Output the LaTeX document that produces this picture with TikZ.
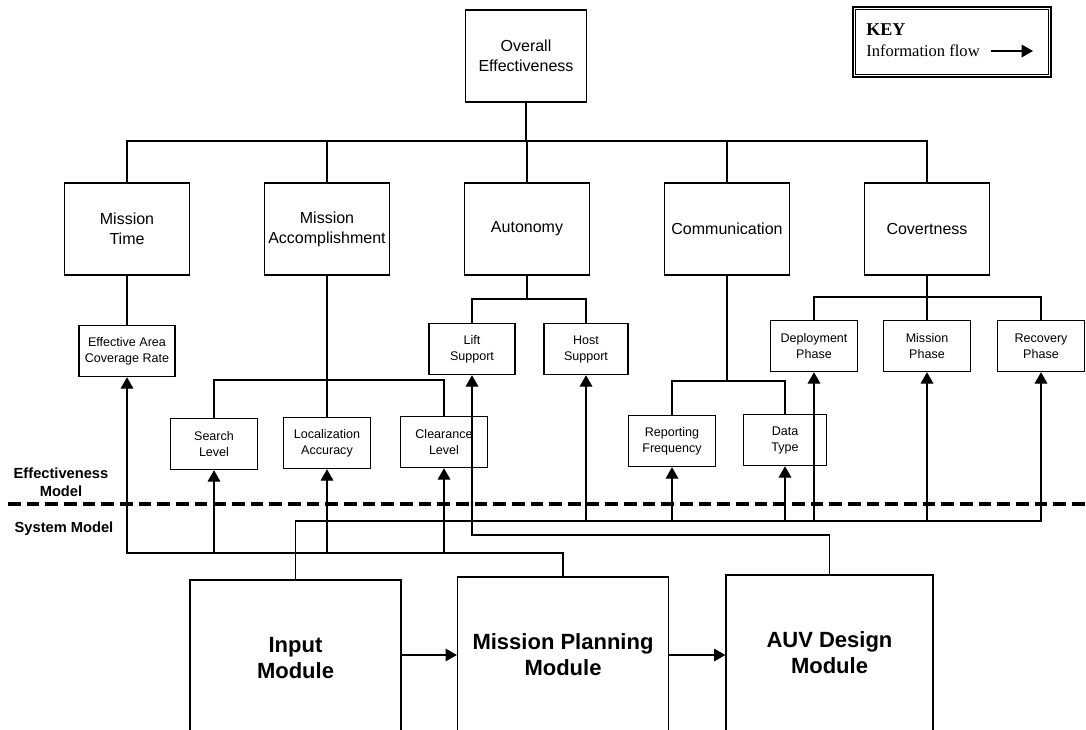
\documentclass[tikz,border=0pt]{standalone}
\usepackage{fontspec}
\setmainfont{Liberation Sans}
\newfontfamily\keyfont{Liberation Serif}
\usetikzlibrary{shapes,arrows.meta}
\tikzstyle{bigbox} = [rectangle, minimum width=93.75pt, minimum height=69pt, inner xsep=1pt, text centered, align=center, draw=black, line width=1.2pt, font=\fontsize{12}{15}\selectfont]
\tikzstyle{smallbox} = [rectangle, minimum width=65.25pt, minimum height=38.25pt, inner xsep=2pt, text centered, align=center, draw=black, line width=1.1pt, font=\fontsize{9.4}{12}\selectfont]
\tikzstyle{module} = [rectangle, minimum width=158pt, text centered, align=center, draw=black, line width=1.2pt, font=\fontsize{16.5}{19.5}\selectfont\bfseries]
\tikzstyle{sidelabel} = [align=center, font=\fontsize{11}{13.5}\selectfont\bfseries]
\tikzstyle{tree} = [line width=1.2pt]
\tikzstyle{arrow} = [line width=0.8pt,-{Triangle[length=8.5pt,width=9.5pt]}]
\tikzstyle{divider} = [line width=2.4pt, dash pattern=on 9.5pt off 4.5pt]

\begin{document}
\begin{tikzpicture}[x=0.75pt, y=-0.75pt, node distance=150pt]
    \useasboundingbox (0,0) rectangle (1086,729);
    \begin{scope}
        \clip (0,0) rectangle (1086,729);
        % effectiveness model
        \node (overall) [bigbox, minimum width=91pt] at (526,56) {Overall\\Effectiveness};
        \node (auto) [bigbox, below of=overall, yshift=20.25pt, xshift=0.75pt] {Autonomy};
        \node (macc) [bigbox, left of=auto] {Mission\\Accomplishment};
        \node (mtime) [bigbox, left of=macc] {Mission\\Time};
        \node (comm) [bigbox, right of=auto] {Communication};
        \node (covert) [bigbox, right of=comm] {Covertness};
        \node (eacr) [smallbox, minimum width=72pt] at (127,351) {Effective Area\\Coverage Rate};
        \node (lift) [smallbox, minimum width=64.5pt] at (472,349) {Lift\\Support};
        \node (host) [smallbox, minimum width=63pt] at (586,349) {Host\\Support};
        \node (deploy) [smallbox] at (814,346) {Deployment\\Phase};
        \node (mphase) [smallbox] at (927,346) {Mission\\Phase};
        \node (recov) [smallbox] at (1041,346) {Recovery\\Phase};
        \node (search) [smallbox] at (214,444) {Search\\Level};
        \node (local) [smallbox] at (327,443) {Localization\\Accuracy};
        \node (clear) [smallbox] at (444,442) {Clearance\\Level};
        \node (report) [smallbox] at (672,441) {Reporting\\Frequency};
        \node (dtype) [smallbox, minimum width=62pt] at (785,440) {Data\\Type};
        % system model
        \node (input) [module, minimum height=117pt] at (295.5,658) {Input\\Module};
        \node (mp) [module, minimum height=117pt] at (563,655) {Mission Planning\\Module};
        \node (auv) [module, minimum width=155pt, minimum height=117pt] at (829.5,653) {AUV Design\\Module};
        \node (effmodel) [sidelabel] at (61,482) {Effectiveness\\Model};
        \node (sysmodel) [sidelabel] at (64,529) {System Model};
        \draw [divider] (8,504) -- (1086,504);
        % key
        \node (key) [draw, line width=1.3pt, minimum width=148.5pt, minimum height=52.5pt] at (952,42) {};
        \draw [line width=0.6pt] ([shift={(2.5pt,-2.5pt)}]key.north west) rectangle ([shift={(-2.5pt,2.5pt)}]key.south east);
        \node (keytitle) [anchor=west, inner sep=0pt, font=\keyfont\fontsize{13.5}{16}\selectfont\bfseries] at (866,30) {KEY};
        \node (keyflow) [anchor=west, inner sep=0pt, font=\keyfont\fontsize{12.4}{15}\selectfont] at (866,51) {Information flow};
        \coordinate (keytip) at (1033,51);
        \draw [arrow] ([xshift=8pt]keyflow.east) -- (keyflow.east -| keytip);
        % hierarchy
        \coordinate (topbar) at (527,141);
        \draw [tree] (overall.south) -- (overall.south |- topbar);
        \draw [tree] (mtime.north) |- (topbar) -| (covert.north);
        \draw [tree] (macc.north) -- (macc.north |- topbar);
        \draw [tree] (auto.north) -- (auto.north |- topbar);
        \draw [tree] (comm.north) -- (comm.north |- topbar);
        \draw [tree] (mtime) -- (eacr);
        \coordinate (maccbar) at (327,380);
        \draw [tree] (macc) -- (local);
        \draw [tree] (search.north) |- (maccbar) -| (clear.north);
        \coordinate (autobar) at (527,299);
        \draw [tree] (auto.south) -- (autobar);
        \draw [tree] (lift.north) |- (autobar) -| (host.north);
        \coordinate (commbar) at (727,381);
        \draw [tree] (comm.south) -- (commbar);
        \draw [tree] (report.north) |- (commbar) -| (dtype.north);
        \coordinate (covbar) at (927,297);
        \draw [tree] (covert) -- (mphase);
        \draw [tree] (deploy.north) |- (covbar) -| (recov.north);
        % information flow
        \coordinate (mpbus) at (563,553);
        \draw [arrow] (mp.north) -- (mpbus) -| (eacr.south);
        \draw [arrow] (search.south |- mpbus) -- (search.south);
        \draw [arrow] (local.south |- mpbus) -- (local.south);
        \draw [arrow] (clear.south |- mpbus) -- (clear.south);
        \coordinate (inbus) at (295.5,521);
        \draw [arrow] (input.north) -- (inbus) -| (recov.south);
        \draw [arrow] (host.south |- inbus) -- (host.south);
        \draw [arrow] (report.south |- inbus) -- (report.south);
        \draw [arrow] (dtype.south |- inbus) -- (dtype.south);
        \draw [arrow] (deploy.south |- inbus) -- (deploy.south);
        \draw [arrow] (mphase.south |- inbus) -- (mphase.south);
        \coordinate (auvbus) at (829.5,535);
        \draw [arrow] (auv.north) -- (auvbus) -| (lift.south);
        \draw [arrow] (input.east |- mp.west) -- (mp.west);
        \draw [arrow] (mp.east) -- (mp.east -| auv.west);
    \end{scope}
\end{tikzpicture}
\end{document}
